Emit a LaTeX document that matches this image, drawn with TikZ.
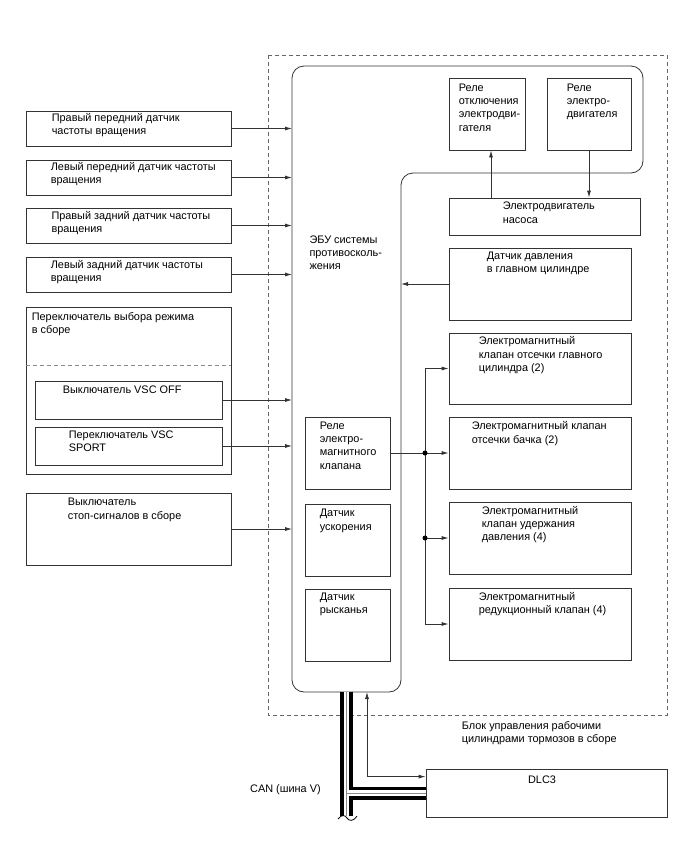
\documentclass[tikz,border=0pt]{standalone}
\usepackage{fontspec}
\setmainfont{Liberation Sans}
\usetikzlibrary{positioning, arrows.meta, fit}

\begin{document}
\begin{tikzpicture}[x=1pt, y=-1pt,
  box/.style={draw=black!80, line width=0.8pt, inner sep=0pt},
  txt/.style={font=\fontsize{10.9}{13.3}\selectfont, align=left, inner sep=0pt, anchor=north west},
  wire/.style={draw=black!80, line width=0.8pt},
  arr/.style={wire, -{Latex[length=7pt,width=4pt]}},
  frame/.style={draw=black!60, line width=0.9pt, dash pattern=on 4pt off 3pt},
  dot/.style={circle, fill=black, inner sep=0pt, minimum size=5pt}]
\useasboundingbox (0,0) rectangle (688,852);
\draw[frame] (268,55) rectangle (667,715);
\coordinate (ecuL) at (292,0);
\coordinate (ecuR) at (401,0);
\coordinate (bus) at (425,0);
\coordinate (can) at (346.5,692);
\coordinate (canEnd) at (346.5,816);
\coordinate (diag) at (367,692);
\draw[wire, rounded corners=12pt] (292,300) -- (292,66) -- (643,66) -- (643,173) -- (401,173) -- (401,692) -- (292,692) -- cycle;
\node[txt] at (309.3,235.5) {ЭБУ системы\\противосколь-\\жения};

\node[box, fit={(26,111) (231,146)}] (w1) {};
\node[txt, below right=2.6pt and 26pt of w1.north west] {Правый передний датчик\\частоты вращения};
\node[box, fit={(26,160) (231,195)}] (w2) {};
\node[txt, below right=2.3pt and 25pt of w2.north west] {Левый передний датчик частоты\\вращения};
\node[box, fit={(26,208) (231,243)}] (w3) {};
\node[txt, below right=3.3pt and 25.7pt of w3.north west] {Правый задний датчик частоты\\вращения};
\node[box, fit={(26,257) (231,292)}] (w4) {};
\node[txt, below right=3.3pt and 25pt of w4.north west] {Левый задний датчик частоты\\вращения};
\node[box, fit={(26,307) (231,474)}] (mode) {};
\node[txt, below right=5.3pt and 6pt of mode.north west] {Переключатель выбора режима\\в сборе};
\draw[frame, draw=black!45] ([yshift=-59pt]mode.north west) -- ([yshift=-59pt]mode.north east);
\node[box, fit={(35,381) (222,419)}] (off) {};
\node[txt, below right=4.6pt and 28pt of off.north west] {Выключатель VSC OFF};
\node[box, fit={(35,427) (222,465)}] (sport) {};
\node[txt, below right=3.6pt and 34pt of sport.north west] {Переключатель VSC\\SPORT};
\node[box, fit={(26,493) (231,565)}] (stop) {};
\node[txt, below right=5.6pt and 42pt of stop.north west] {Выключатель\\стоп-сигналов в сборе};

\node[box, fit={(449,78) (525,150)}] (r1) {};
\node[txt, below right=5.9pt and 10pt of r1.north west] {Реле\\отключения\\электродви-\\гателя};
\node[box, fit={(547,78) (631,150)}] (r2) {};
\node[txt, below right=5.9pt and 20pt of r2.north west] {Реле\\электро-\\двигателя};
\node[box, fit={(449,198) (640,235)}] (pump) {};
\node[txt, below right=4.3pt and 54pt of pump.north west] {Электродвигатель\\насоса};
\node[box, fit={(449,248) (631,320)}] (press) {};
\node[txt, below right=4.3pt and 38pt of press.north west] {Датчик давления\\в главном цилиндре};
\node[box, fit={(449,333) (631,404)}] (sol1) {};
\node[txt, below right=3.9pt and 30pt of sol1.north west] {Электромагнитный\\клапан отсечки главного\\цилиндра (2)};
\node[box, fit={(449,417) (631,489)}] (sol2) {};
\node[txt, below right=4.9pt and 23pt of sol2.north west] {Электромагнитный клапан\\отсечки бачка (2)};
\node[box, fit={(449,502) (631,574)}] (sol3) {};
\node[txt, below right=4.3pt and 33pt of sol3.north west] {Электромагнитный\\клапан удержания\\давления (4)};
\node[box, fit={(449,588) (631,660)}] (sol4) {};
\node[txt, below right=4.3pt and 30pt of sol4.north west] {Электромагнитный\\редукционный клапан (4)};

\node[box, fit={(305,417) (390,489)}] (rv) {};
\node[txt, below right=4.9pt and 15pt of rv.north west] {Реле\\электро-\\магнитного\\клапана};
\node[box, fit={(305,504) (390,576)}] (acc) {};
\node[txt, below right=5.6pt and 15pt of acc.north west] {Датчик\\ускорения};
\node[box, fit={(305,589) (390,661)}] (yaw) {};
\node[txt, below right=3.9pt and 15pt of yaw.north west] {Датчик\\рысканья};

\node[box, fit={(426,769) (667,817)}] (dlc) {};
\node[txt, anchor=north, below=7.3pt of dlc.north, xshift=-4.5pt] {DLC3};
\node[txt] at (461.7,721.3) {Блок управления рабочими\\цилиндрами тормозов в сборе};
\node[txt] at (250,783.9) {CAN (шина V)};

\foreach \n in {w1,w2,w3,w4,off,sport,stop}
  \draw[arr] (\n.east) -- (\n.east -| ecuL);
\draw[arr] ([xshift=4pt]r1.south |- pump.north) -- ([xshift=4pt]r1.south);
\draw[arr] (r2.south) -- (r2.south |- pump.north);
\draw[arr] (press.west) -- (press.west -| ecuR);
\draw[wire] (sol1.west -| bus) -- (sol4.west -| bus);
\draw[wire] (rv.east) -- (rv.east -| bus);
\foreach \n in {sol1,sol2,sol3,sol4}
  \draw[arr] (\n.west -| bus) -- (\n.west);
\node[dot] at (rv.east -| bus) {};
\node[dot] at (sol3.west -| bus) {};

\foreach \w/\c in {13pt/black, 5.5pt/white, 1pt/black!45}
  \draw[line width=\w, draw=\c] (can) -- (canEnd) (can |- dlc.west) -- (dlc.west);
\draw[line width=0.8pt] (338,819) .. controls (342,814) and (345,815) .. (347,818) .. controls (349,821) and (353,822) .. (357,816);
\draw[wire, {Latex[length=7pt,width=4pt]}-{Latex[length=7pt,width=4pt]}] (diag) |- ([yshift=-8pt]dlc.north west);
\end{tikzpicture}
\end{document}
